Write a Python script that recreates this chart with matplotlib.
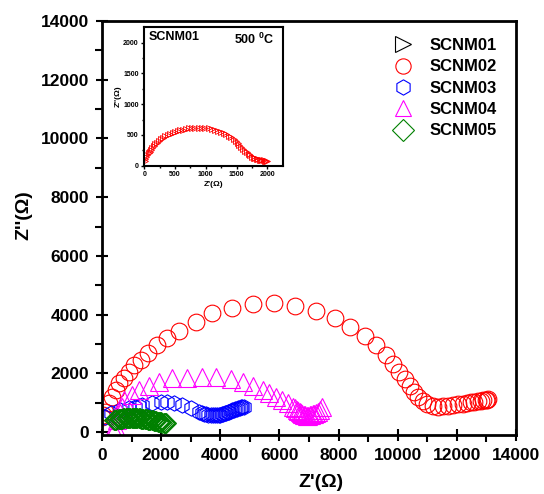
import matplotlib
matplotlib.use("Agg")
import matplotlib.pyplot as plt
from matplotlib.lines import Line2D

plt.rcParams['font.family'] = ['Liberation Sans', 'DejaVu Sans']
plt.rcParams['font.weight'] = 'bold'
plt.rcParams['mathtext.fontset'] = 'custom'
plt.rcParams['mathtext.rm'] = 'Liberation Sans:bold'
plt.rcParams['mathtext.bf'] = 'Liberation Sans:bold'
plt.rcParams['mathtext.default'] = 'bf'

labels = ['SCNM01', 'SCNM02', 'SCNM03', 'SCNM04', 'SCNM05']
colors = ['black', 'red', 'blue', 'magenta', 'green']
markers = ['>', 'o', 'h', '^', 'D']

# SCNM02 (red circles)
x02 = [0, 50, 115, 227, 340, 475, 590, 737, 906, 1076, 1303, 1562, 1867, 2206, 2603,
       3170, 3734, 4413, 5092, 5828, 6540, 7243, 7865, 8397, 8883, 9280, 9596, 9844,
       10048, 10241, 10411, 10547, 10693, 10841, 10998, 11181, 11372, 11541, 11711,
       11880, 12050, 12200, 12336, 12471, 12594, 12709, 12811, 12899, 12980, 13035, 13069]
y02 = [520, 580, 690, 977, 1202, 1430, 1658, 1829, 2054, 2282, 2452, 2701, 2963, 3191, 3450,
       3757, 4043, 4234, 4349, 4383, 4292, 4121, 3872, 3587, 3270, 2963, 2623, 2316,
       2054, 1795, 1567, 1373, 1202, 1066, 954, 886, 862, 875, 896,
       920, 943, 964, 988, 1012, 1032, 1056, 1066, 1080, 1090, 1100, 1114]

# SCNM03 (blue hexagons)
x03 = [100, 300, 600, 900, 1100, 1246, 1358, 1697, 1982, 2206, 2434, 2716, 3000, 3283,
       3380, 3450, 3520, 3600, 3670, 3750, 3820, 3880, 3940, 4000, 4050, 4100, 4150,
       4200, 4250, 4300, 4350, 4400, 4450, 4500, 4550, 4600, 4650, 4700, 4750, 4800]
y03 = [520, 640, 760, 830, 870, 900, 920, 990, 1040, 1040, 1000, 920, 807, 692,
       650, 620, 600, 580, 570, 565, 565, 570, 578, 590, 605, 620, 638,
       660, 680, 700, 720, 740, 760, 780, 795, 810, 825, 840, 850, 860]

# SCNM04 (magenta triangles)
x04 = [400, 450, 520, 600, 660, 737, 1018, 1246, 1585, 1925, 2376, 2885, 3394, 3849,
       4358, 4753, 5092, 5431, 5658, 5885, 6090, 6280, 6450, 6520, 6580, 6630, 6680,
       6730, 6780, 6830, 6880, 6930, 6980, 7030, 7080, 7130, 7180, 7230, 7290, 7360, 7450]
y04 = [50, 200, 400, 650, 870, 1090, 1260, 1430, 1567, 1713, 1829, 1850, 1884, 1884,
       1805, 1713, 1567, 1430, 1318, 1202, 1090, 977, 862, 810, 760, 720, 680,
       645, 615, 590, 570, 560, 560, 565, 580, 600, 625, 660, 700, 760, 840]

# SCNM05 (green diamonds)
x05 = [400, 440, 480, 520, 560, 600, 640, 680, 720, 760, 800, 840, 880, 920, 960,
       1000, 1040, 1080, 1120, 1160, 1200, 1240, 1280, 1320, 1360, 1400, 1440, 1480,
       1520, 1560, 1600, 1640, 1680, 1720, 1760, 1800, 1840, 1880, 1920, 1960, 2000,
       2040, 2080, 2120, 2170]
y05 = [400, 410, 420, 430, 438, 446, 452, 458, 463, 467, 470, 472, 474, 475, 476,
       476, 476, 475, 474, 472, 470, 467, 464, 460, 456, 451, 446, 440,
       434, 427, 420, 412, 404, 395, 386, 377, 368, 358, 348, 338, 330,
       322, 315, 310, 306]

# SCNM01 inset (500 C)
x01 = [10, 20, 33, 50, 70, 88, 108, 130, 152, 178, 206, 238, 271, 305, 341, 382, 423,
       463, 504, 545, 585, 635, 683, 730, 775, 830, 883, 938, 992, 1046, 1100, 1146,
       1192, 1240, 1290, 1330, 1371, 1412, 1452, 1485, 1517, 1547, 1577, 1610, 1642,
       1670, 1696, 1724, 1751, 1778, 1805, 1830, 1855, 1878, 1900, 1920, 1940, 1958,
       1975, 1995]
y01 = [80, 110, 145, 172, 200, 228, 256, 290, 322, 350, 377, 405, 433, 455, 476, 498, 520,
       534, 548, 562, 575, 587, 598, 606, 614, 618, 620, 618, 614, 606, 598, 584,
       570, 552, 532, 510, 488, 461, 433, 405, 377, 344, 311, 278, 245,
       218, 190, 167, 145, 132, 119, 110, 103, 97, 92, 88, 85, 82,
       80, 79]

fig = plt.figure(figsize=(5.44, 4.94), dpi=100)
ax = fig.add_axes([0.1875, 0.1194, 0.761, 0.838])

series = [(x02, y02, 1, 12), (x03, y03, 2, 11), (x04, y04, 3, 13), (x05, y05, 4, 10)]
for xs, ys, i, ms in series:
    ax.plot(xs, ys, linestyle='none', marker=markers[i], markersize=ms,
            markerfacecolor='none', markeredgecolor=colors[i], markeredgewidth=0.8)

ax.set_xlim(0, 14000)
ax.set_ylim(-100, 14000)
ax.set_xticks(range(0, 14001, 2000))
ax.set_yticks(range(0, 14001, 2000))
ax.set_xticks(range(1000, 14000, 2000), minor=True)
ax.set_yticks(range(1000, 14000, 2000), minor=True)
ax.tick_params(which='major', direction='inout', length=9, width=1.5, labelsize=12.5, pad=5)
ax.tick_params(which='minor', direction='out', length=5, width=1.5)
for s in ax.spines.values():
    s.set_linewidth(2)
for lab in ax.get_xticklabels() + ax.get_yticklabels():
    lab.set_fontweight('bold')
ax.set_xlabel("Z'(\u03a9)", fontsize=14, fontweight='bold')
ax.set_ylabel("Z''(\u03a9)", fontsize=14, fontweight='bold')
ax.xaxis.set_label_coords(0.53, -0.095)
ax.yaxis.set_label_coords(-0.167, 0.53)

handles = [Line2D([], [], linestyle='none', marker=markers[i], markersize=11,
                  markerfacecolor='none', markeredgecolor=colors[i], markeredgewidth=0.8)
           for i in range(5)]
ax.legend(handles, labels, loc='upper right', bbox_to_anchor=(0.99, 0.995), frameon=False,
          prop={'size': 12, 'weight': 'bold'}, labelspacing=0.38, handletextpad=1.0,
          handlelength=1.2)

ins = fig.add_axes([0.2652, 0.6646, 0.2544, 0.2801])
ins.plot(x01, y01, linestyle='none', marker='>', markersize=5, markerfacecolor='none',
         markeredgecolor='red', markeredgewidth=0.6)
ins.set_xlim(0, 2250)
ins.set_ylim(0, 2250)
ins.set_xticks([0, 500, 1000, 1500, 2000])
ins.set_yticks([0, 500, 1000, 1500, 2000])
ins.set_xticks([250, 750, 1250, 1750], minor=True)
ins.set_yticks([250, 750, 1250, 1750], minor=True)
ins.tick_params(which='major', direction='out', length=2.5, width=1, labelsize=5, pad=1.5)
ins.tick_params(which='minor', direction='out', length=1.5, width=1)
for s in ins.spines.values():
    s.set_linewidth(1.5)
ins.set_xlabel("Z'(\u03a9)", fontsize=6, fontweight='bold', labelpad=2)
ins.set_ylabel("Z''(\u03a9)", fontsize=6, fontweight='bold', labelpad=1)
ins.text(0.03, 0.97, 'SCNM01', transform=ins.transAxes, ha='left', va='top',
         fontsize=9, fontweight='bold')
ins.text(0.94, 0.97, '500 $^{0}$C', transform=ins.transAxes, ha='right', va='top',
         fontsize=9, fontweight='bold')

fig.savefig('out.png', dpi=100)
